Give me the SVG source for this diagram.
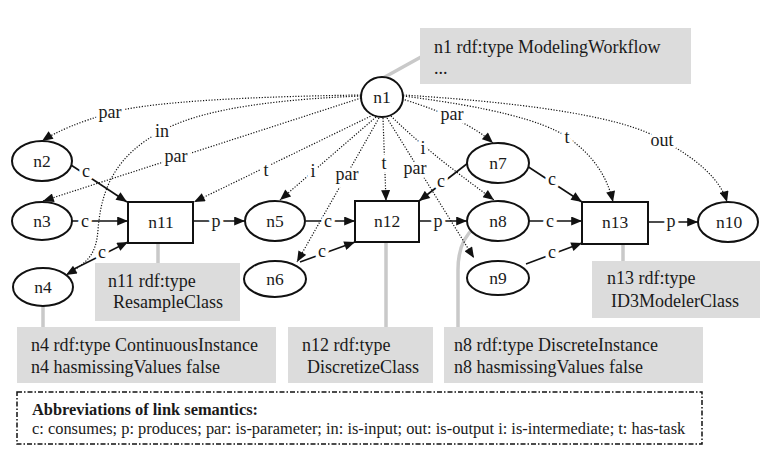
<svg xmlns="http://www.w3.org/2000/svg" width="774" height="461" viewBox="0 0 774 461" font-family="'Liberation Serif', 'DejaVu Serif', 'Times New Roman', serif">
<style>
text{font-family:"Liberation Serif","DejaVu Serif","Times New Roman",serif;fill:#1a1a1a}
.nl{font-size:17.5px;text-anchor:middle}
.el{font-size:18px;text-anchor:middle;stroke:#fff;stroke-width:7;paint-order:stroke;stroke-linejoin:round}
.bt{font-size:18px}
.node{fill:#fff;stroke:#111;stroke-width:2}
.solid{fill:none;stroke:#111;stroke-width:1.6}
.dot{fill:none;stroke:#111;stroke-width:1.2;stroke-dasharray:1.2 1.6}
.gl{fill:none;stroke:#c9c9c9;stroke-width:3.5}
.gb{fill:#dcdcdc}
.lg{font-size:16.4px}
</style>
<defs>
<marker id="ah" viewBox="0 0 12 10" refX="12" refY="5" markerWidth="12" markerHeight="9" orient="auto" markerUnits="userSpaceOnUse"><path d="M0,0 L12,5 L0,10 z" fill="#111"/></marker>
</defs>
<rect width="774" height="461" fill="#fff"/>

<g id="annotations">
<path class="gl" d="M383,78 L421,57"/>
<rect class="gb" x="420" y="28" width="271" height="56"/>
<text class="bt" x="434" y="53">n1 rdf:type ModelingWorkflow</text>
<text class="bt" x="434" y="74">...</text>
<path class="gl" d="M158,243 L158,263"/>
<rect class="gb" x="95" y="263" width="145" height="58"/>
<text class="bt" x="108" y="287">n11 rdf:type</text>
<text class="bt" x="113" y="308">ResampleClass</text>
<path class="gl" d="M43,306 L43,327"/>
<rect class="gb" x="17" y="327" width="259" height="56"/>
<text class="bt" x="31" y="351">n4 rdf:type ContinuousInstance</text>
<text class="bt" x="31" y="373">n4 hasmissingValues false</text>
<path class="gl" d="M386,242 L386,327"/>
<rect class="gb" x="288" y="327" width="145" height="56"/>
<text class="bt" x="302" y="351">n12 rdf:type</text>
<text class="bt" x="307" y="373">DiscretizeClass</text>
<path class="gl" d="M474,228 C462,238 458,252 458,270 L458,327"/>
<rect class="gb" x="444" y="327" width="259" height="56"/>
<text class="bt" x="454" y="351">n8 rdf:type DiscreteInstance</text>
<text class="bt" x="454" y="373">n8 hasmissingValues false</text>
<path class="gl" d="M623,244 L623,261"/>
<rect class="gb" x="592" y="261" width="168" height="57"/>
<text class="bt" x="607" y="284">n13 rdf:type</text>
<text class="bt" x="611" y="307">ID3ModelerClass</text>
</g>

<g id="connectors">
<path class="dot" marker-end="url(#ah)" d="M361,95 Q160,98 110,113 Q65,126 42,141"/>
<path class="dot" marker-end="url(#ah)" d="M361,96 C260,100 195,112 162,131 C115,155 101,190 98,230 C96,255 88,262 66,275"/>
<path class="dot" marker-end="url(#ah)" d="M361,98 L43,201"/>
<path class="dot" marker-end="url(#ah)" d="M373,115 L194,202"/>
<path class="dot" marker-end="url(#ah)" d="M376,117 L280,200"/>
<path class="dot" marker-end="url(#ah)" d="M379,118 L297,262"/>
<path class="dot" marker-end="url(#ah)" d="M383,118 L386,201"/>
<path class="dot" marker-end="url(#ah)" d="M387,118 L474,258"/>
<path class="dot" marker-end="url(#ah)" d="M391,116 Q425,150 494,200"/>
<path class="dot" marker-end="url(#ah)" d="M402,99 Q465,118 493,143"/>
<path class="dot" marker-end="url(#ah)" d="M403,96 Q530,112 567,137 Q604,162 613,202"/>
<path class="dot" marker-end="url(#ah)" d="M403,95 Q610,108 662,140 Q718,170 727,202"/>
<path class="solid" marker-end="url(#ah)" d="M71,165 L127,202"/>
<path class="solid" marker-end="url(#ah)" d="M72,221 L128,221"/>
<path class="solid" marker-end="url(#ah)" d="M70,271 L128,242"/>
<path class="solid" marker-end="url(#ah)" d="M193,221 L245,221"/>
<path class="solid" marker-end="url(#ah)" d="M306,221 L355,221"/>
<path class="solid" marker-end="url(#ah)" d="M300,262 L355,242"/>
<path class="solid" marker-end="url(#ah)" d="M419,221 L467,221"/>
<path class="solid" marker-end="url(#ah)" d="M468,163 L419,201"/>
<path class="solid" marker-end="url(#ah)" d="M527,166 L582,202"/>
<path class="solid" marker-end="url(#ah)" d="M529,221 L582,221"/>
<path class="solid" marker-end="url(#ah)" d="M526,264 L582,243"/>
<path class="solid" marker-end="url(#ah)" d="M648,222 L698,222"/>
<text class="el" x="110" y="118">par</text>
<text class="el" x="162" y="137">in</text>
<text class="el" x="176" y="162">par</text>
<text class="el" x="266" y="176">t</text>
<text class="el" x="313" y="177">i</text>
<text class="el" x="347" y="180">par</text>
<text class="el" x="384" y="169">t</text>
<text class="el" x="415" y="174">par</text>
<text class="el" x="423" y="154">i</text>
<text class="el" x="452" y="120">par</text>
<text class="el" x="567" y="143">t</text>
<text class="el" x="662" y="146">out</text>
<text class="el" x="86" y="177">c</text>
<text class="el" x="85" y="227">c</text>
<text class="el" x="102" y="258">c</text>
<text class="el" x="216" y="227">p</text>
<text class="el" x="328" y="227">c</text>
<text class="el" x="322" y="257">c</text>
<text class="el" x="438" y="227">p</text>
<text class="el" x="441" y="187">c</text>
<text class="el" x="552" y="185">c</text>
<text class="el" x="550" y="227">c</text>
<text class="el" x="552" y="258">c</text>
<text class="el" x="671" y="227">p</text>
</g>

<g id="n1"><ellipse class="node" cx="382" cy="97" rx="21" ry="20"/><text class="nl" x="382" y="103">n1</text></g>
<g id="n2"><ellipse class="node" cx="42" cy="161" rx="30" ry="20"/><text class="nl" x="42" y="167">n2</text></g>
<g id="n3"><ellipse class="node" cx="42" cy="221" rx="30" ry="19"/><text class="nl" x="42" y="227">n3</text></g>
<g id="n4"><ellipse class="node" cx="43" cy="287" rx="30" ry="19"/><text class="nl" x="43" y="293">n4</text></g>
<g id="n5"><ellipse class="node" cx="275" cy="221" rx="30" ry="20"/><text class="nl" x="275" y="227">n5</text></g>
<g id="n6"><ellipse class="node" cx="275" cy="279" rx="31" ry="18"/><text class="nl" x="275" y="285">n6</text></g>
<g id="n7"><ellipse class="node" cx="498" cy="163" rx="31" ry="20"/><text class="nl" x="498" y="169">n7</text></g>
<g id="n8"><ellipse class="node" cx="498" cy="221" rx="31" ry="20"/><text class="nl" x="498" y="227">n8</text></g>
<g id="n9"><ellipse class="node" cx="498" cy="278" rx="31" ry="17"/><text class="nl" x="498" y="284">n9</text></g>
<g id="n10"><ellipse class="node" cx="728" cy="222" rx="30" ry="20"/><text class="nl" x="729" y="228">n10</text></g>
<g id="n11"><rect class="node" x="128" y="202" width="65" height="41"/><text class="nl" x="161" y="228">n11</text></g>
<g id="n12"><rect class="node" x="355" y="201" width="64" height="41"/><text class="nl" x="387" y="227">n12</text></g>
<g id="n13"><rect class="node" x="582" y="202" width="66" height="42"/><text class="nl" x="615" y="228">n13</text></g>

<g id="legend">
<rect x="17" y="392" width="685" height="52" fill="#fff" stroke="#111" stroke-width="1.5" stroke-dasharray="5 2 1.5 2"/>
<text class="lg" x="32" y="415" font-weight="bold">Abbreviations of link semantics:</text>
<text class="lg" x="32" y="434">c: consumes; p: produces; par: is-parameter; in: is-input; out: is-output i: is-intermediate; t: has-task</text>
</g>
</svg>
